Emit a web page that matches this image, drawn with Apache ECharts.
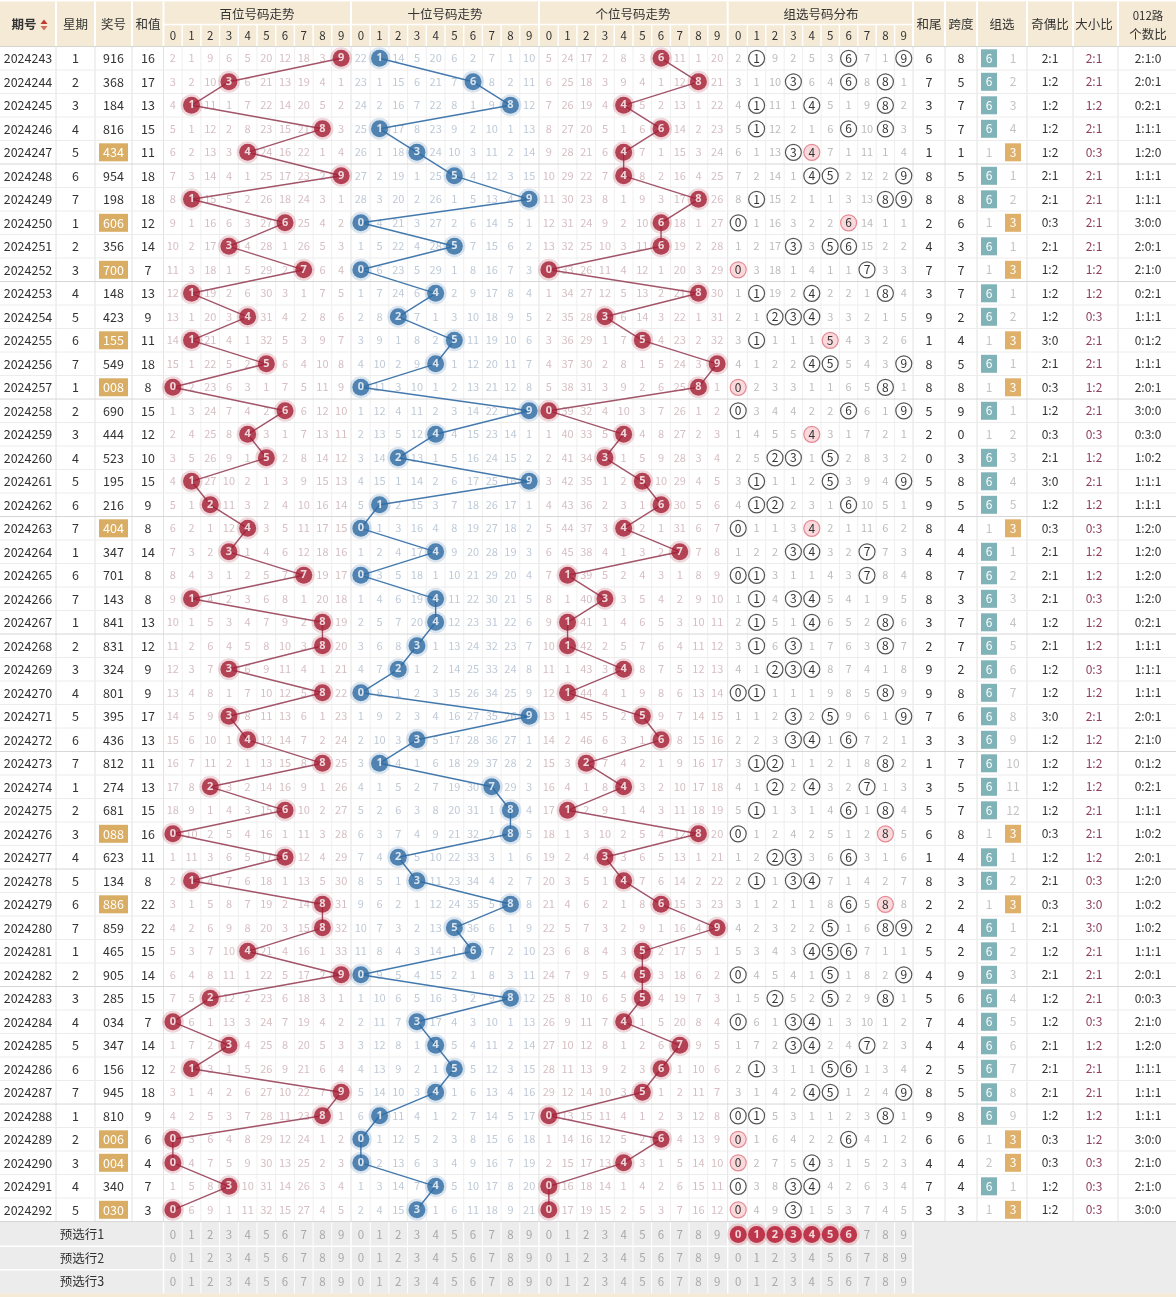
<!DOCTYPE html>
<html><head><meta charset="utf-8">
<script src="https://cdn.jsdelivr.net/npm/echarts/dist/echarts.min.js"></script>
<style>html,body{margin:0;padding:0;background:#fff}#c{width:1176px;height:1297px}</style>
</head><body><div id="c"></div>
<script>
// ---------------- DATA ----------------
const periods = ['2024243','2024244','2024245','2024246','2024247','2024248','2024249','2024250','2024251','2024252',
'2024253','2024254','2024255','2024256','2024257','2024258','2024259','2024260','2024261','2024262',
'2024263','2024264','2024265','2024266','2024267','2024268','2024269','2024270','2024271','2024272',
'2024273','2024274','2024275','2024276','2024277','2024278','2024279','2024280','2024281','2024282',
'2024283','2024284','2024285','2024286','2024287','2024288','2024289','2024290','2024291','2024292'];
const weekdays = [1,2,3,4,5,6,7,1,2,3,4,5,6,7,1,2,3,4,5,6,7,1,6,7,1,2,3,4,5,6,7,1,2,3,4,5,6,7,1,2,3,4,5,6,7,1,2,3,4,5];
const draws = ['916','368','184','816','434','954','198','606','356','700',
'148','423','155','549','008','690','444','523','195','216',
'404','347','701','143','841','831','324','801','395','436',
'812','274','681','088','623','134','886','859','465','905',
'285','034','347','156','945','810','006','004','340','030'];
const sums = [16,17,13,15,11,18,18,12,14,7,13,9,11,18,8,15,12,10,15,9,8,14,8,8,13,12,9,9,17,13,11,13,15,16,11,8,22,22,15,14,15,7,14,12,18,9,6,4,7,3];
// omission values shown in the first row (hit cell = 0)
const missHundredsFirst = [2,1,9,6,5,20,12,18,3,0];
const missTensFirst     = [22,0,14,5,20,6,2,7,1,10];
const missUnitsFirst    = [5,24,17,2,8,3,0,11,1,20];
const missGroupFirst    = [2,0,9,2,5,3,0,7,1,0];
const missZu6First = 0, missZu3First = 1;
const predPicks = [0,1,2,3,4,5,6];
const digitLabels = ['0','1','2','3','4','5','6','7','8','9'];
const predLabels = ['预选行1','预选行2','预选行3'];

// ---------------- LAYOUT ----------------
const W = 1176, H = 1297;
const ROW0 = 58.3, ROWH = 23.5;
const rowY = i => ROW0 + ROWH * i;
const DATA_TOP = rowY(-0.5), DATA_BOT = rowY(49.5);
const PRED0 = DATA_BOT + ROWH/2 + 1.2;
const predY = k => PRED0 + ROWH * k;
const PRED_BOT = predY(2.5);
const secLeft = [163.5, 351.5, 539.5, 729];
const secStep = [18.7, 18.7, 18.7, 18.4];
const colX = (s, d) => secLeft[s] + (d + 0.5) * secStep[s];
const secRight = s => secLeft[s] + 10 * secStep[s];

const FONT = '"Noto Sans CJK SC","Noto Sans",sans-serif';
const shapes = [];
function rect(x0,y0,x1,y1,fill){shapes.push({k:'rect',x0,y0,x1,y1,fill,z:0});}
function seg(x1,y1,x2,y2,stroke,w){shapes.push({k:'line',x1,y1,x2,y2,stroke,w:w||1,z:1});}
function circ(x,y,r,fill,stroke,w){shapes.push({k:'circle',x,y,r,fill,stroke,w,z:2});}
function txt(x,y,text,color,size,weight){shapes.push({k:'text',x,y,text:String(text),color,size:size||12,weight:weight||'normal',z:3});}
function poly(pts,fill){shapes.push({k:'poly',pts,fill,z:2});}

// ---------------- DERIVED ----------------
const digs = draws.map(s => s.split('').map(Number));
function omissions(first, pick) {
  const out = [first.slice()];
  for (let i = 1; i < digs.length; i++) {
    const prev = out[i-1];
    out.push(prev.map((v, d) => pick(digs[i]).includes(d) ? 0 : v + 1));
  }
  return out;
}
const missH = omissions(missHundredsFirst, a => [a[0]]);
const missT = omissions(missTensFirst, a => [a[1]]);
const missU = omissions(missUnitsFirst, a => [a[2]]);
const missG = omissions(missGroupFirst, a => a);
const kinds = digs.map(a => new Set(a).size); // 3: 组六, 2: 组三, 1: 豹子
const zu6 = [], zu3 = [];
kinds.forEach((k, i) => {
  if (i === 0) { zu6.push(missZu6First); zu3.push(missZu3First); return; }
  zu6.push(k === 3 ? 0 : zu6[i-1] + 1);
  zu3.push(k === 2 ? 0 : zu3[i-1] + 1);
});

// ---------------- TABLE SHAPES ----------------
const HEAD = '#f4ead5';
rect(0, 1.5, W, DATA_TOP, HEAD);
rect(0, PRED_BOT, W, H, HEAD);
rect(0, DATA_BOT, W, PRED_BOT, '#ececec');

// header texts
const hc = 24.5, h1 = 14.5, h2 = 35.5, HT = '#333';
txt(24, hc, '期号', HT, 12.5, 'bold');
poly([[40.5,24],[47.5,24],[44,19.5]], '#c0392b');
poly([[40.5,26],[47.5,26],[44,30.5]], '#d07060');
txt(75.5, hc, '星期', HT, 12.5);
txt(113.5, hc, '奖号', HT, 12.5);
txt(148, hc, '和值', HT, 12.5);
const secTitles = ['百位号码走势','十位号码走势','个位号码走势','组选号码分布'];
secTitles.forEach((t, s) => {
  txt((secLeft[s] + secRight(s)) / 2, h1, t, HT, 12.5);
  for (let d = 0; d < 10; d++) txt(colX(s, d), h2, digitLabels[d], HT, 11.5);
});
txt(929, hc, '和尾', HT, 12.5);
txt(961, hc, '跨度', HT, 12.5);
txt(1002, hc, '组选', HT, 12.5);
txt(1050, hc, '奇偶比', HT, 12.5);
txt(1094, hc, '大小比', HT, 12.5);
txt(1148, 15.5, '012路', HT, 11.5);
txt(1148, 34.5, '个数比', HT, 12.5);

// grid lines in data
const mainCols = [56, 95, 132, 163.5, 351, 539, 727.7, 913, 945, 977, 1027, 1073, 1118];
for (let s = 0; s < 4; s++) for (let d = 1; d < 10; d++) {
  const x = secLeft[s] + d * secStep[s];
  seg(x, DATA_TOP, x, DATA_BOT, '#efefef', 1);
  seg(x, h1 + 10, x, DATA_TOP, '#ffffff', 1.5);
  seg(x, DATA_BOT, x, PRED_BOT, '#ffffff', 1);
}
mainCols.forEach(x => {
  seg(x, DATA_TOP, x, DATA_BOT, '#e2e2e2', 1);
  seg(x, 1.5, x, DATA_TOP, '#ffffff', 2);
});
[163.5, 351, 539, 727.7, 913].forEach(x => seg(x, DATA_BOT, x, PRED_BOT, '#ffffff', 1.5));
for (let s = 0; s < 4; s++) seg(secLeft[s], h1 + 10, secRight(s), h1 + 10, '#ffffff', 1.5);
for (let i = 0; i <= 50; i++) {
  const y = rowY(i - 0.5);
  seg(0, y, W, y, (i % 5 === 0) ? '#d6d6d6' : '#ececec', 1);
}
for (let k = 1; k < 3; k++) seg(0, predY(k - 0.5), 913, predY(k - 0.5), '#ffffff', 1.5);

// data rows
const missColors = ['#d6bfc3', '#bfcad7', '#d6bfc3', '#bdbdbd'];
const missArr = [missH, missT, missU, missG];
digs.forEach((a, i) => {
  const y = rowY(i), T = '#333';
  txt(28, y, periods[i], T, 12.5);
  txt(75.5, y, weekdays[i], T, 12.5);
  if (kinds[i] === 2) {
    rect(99, y - 9, 128, y + 9, '#d9ad63');
    txt(113.5, y, draws[i], '#ffffff', 12.5);
  } else txt(113.5, y, draws[i], T, 12.5);
  txt(148, y, sums[i], T, 12.5);
  for (let s = 0; s < 4; s++) for (let d = 0; d < 10; d++) {
    const v = missArr[s][i][d];
    if (v !== 0) { txt(colX(s, d), y, v, missColors[s], 11); continue; }
    if (s === 3) {
      const cnt = a.filter(x => x === d).length;
      if (cnt > 1) circ(colX(3, d), y, 8, '#fad9dc', '#e58a94', 1.2);
      else circ(colX(3, d), y, 8, 'rgba(0,0,0,0)', '#555555', 1.2);
      txt(colX(3, d), y, d, '#333', 12);
    }
  }
  txt(929, y, sums[i] % 10, T, 12.5);
  txt(961, y, Math.max(...a) - Math.min(...a), T, 12.5);
  if (kinds[i] === 3) { rect(981, y - 9, 997, y + 9, '#80b3b7'); txt(989, y, '6', '#fff', 12); }
  else txt(989, y, zu6[i], '#c4c4c4', 12);
  if (kinds[i] === 2) { rect(1005, y - 9, 1021, y + 9, '#deb06a'); txt(1013, y, '3', '#fff', 12); }
  else txt(1013, y, zu3[i], '#c4c4c4', 12);
  const odd = a.filter(x => x % 2).length, big = a.filter(x => x >= 5).length;
  txt(1050, y, odd + ':' + (3 - odd), T, 12);
  txt(1094, y, big + ':' + (3 - big), '#8b3d5c', 12);
  const m = [0, 1, 2].map(r => a.filter(x => x % 3 === r).length);
  txt(1148, y, m.join(':'), T, 12);
});

// prediction rows
predLabels.forEach((l, k) => {
  const y = predY(k);
  txt(82, y, l, '#333', 12.5);
  for (let s = 0; s < 4; s++) for (let d = 0; d < 10; d++) {
    if (s === 3 && k === 0 && predPicks.includes(d)) continue;
    txt(colX(s, d), y, d, '#a9a9a9', 11.5);
  }
});

// ---------------- SERIES ----------------
function render(params, api) {
  const s = shapes[params.dataIndex];
  if (s.k === 'rect') {
    const p0 = api.coord([s.x0, s.y0]), p1 = api.coord([s.x1, s.y1]);
    return {type:'rect', z2:s.z, shape:{x:p0[0], y:p0[1], width:p1[0]-p0[0], height:p1[1]-p0[1]}, style:{fill:s.fill}};
  }
  if (s.k === 'line') {
    const p0 = api.coord([s.x1, s.y1]), p1 = api.coord([s.x2, s.y2]);
    return {type:'line', z2:s.z, shape:{x1:p0[0], y1:p0[1], x2:p1[0], y2:p1[1]}, style:{stroke:s.stroke, lineWidth:s.w}};
  }
  if (s.k === 'circle') {
    const p = api.coord([s.x, s.y]);
    return {type:'circle', z2:s.z, shape:{cx:p[0], cy:p[1], r:s.r}, style:{fill:s.fill, stroke:s.stroke, lineWidth:s.w}};
  }
  if (s.k === 'poly') {
    return {type:'polygon', z2:s.z, shape:{points:s.pts.map(q => api.coord(q))}, style:{fill:s.fill}};
  }
  const p = api.coord([s.x, s.y]);
  return {type:'text', z2:s.z, x:p[0], y:p[1], style:{text:s.text, fill:s.color, font:s.weight + ' ' + s.size + 'px ' + FONT, align:'center', verticalAlign:'middle'}};
}

const lineColors = ['#a25468', '#4479ad', '#a25468'];
const ballColors = ['#a51d35', '#2e6ca3', '#a51d35'];
const haloColors = ['rgba(165,29,53,0.22)', 'rgba(46,108,163,0.22)', 'rgba(165,29,53,0.22)'];
const series = [{
  type:'custom', z:2, clip:false, silent:true, progressive:0,
  data: shapes.map((s, i) => [i, 0]), encode:{x:-1, y:-1},
  renderItem: render
}];
for (let s = 0; s < 3; s++) {
  const pts = digs.map((a, i) => [colX(s, a[s]), rowY(i), a[s]]);
  series.push({type:'line', z:3, silent:true, symbol:'none', data:pts.map(p => [p[0], p[1]]), lineStyle:{color:lineColors[s], width:1.4}});
  series.push({type:'scatter', z:4, silent:true, symbolSize:22, data:pts, itemStyle:{color:haloColors[s]}});
  series.push({type:'scatter', z:5, silent:true, symbolSize:17, data:pts, itemStyle:{color:ballColors[s]},
    label:{show:true, position:'inside', formatter:p => p.value[2], color:'#fff', fontSize:11, fontWeight:'bold', fontFamily:'Noto Sans'}});
}
const predPts = predPicks.map(d => [colX(3, d), predY(0), d]);
series.push({type:'scatter', z:4, silent:true, symbolSize:22, data:predPts, itemStyle:{color:'rgba(200,20,40,0.2)'}});
series.push({type:'scatter', z:5, silent:true, symbolSize:17, data:predPts, itemStyle:{color:'#b3122b'},
  label:{show:true, position:'inside', formatter:p => p.value[2], color:'#fff', fontSize:11, fontWeight:'bold', fontFamily:'Noto Sans'}});

const chart = echarts.init(document.getElementById('c'), null, {renderer:'canvas'});
chart.setOption({
  animation:false,
  grid:{left:0, right:0, top:0, bottom:0},
  xAxis:{type:'value', min:0, max:W, show:false},
  yAxis:{type:'value', min:0, max:H, inverse:true, show:false},
  series
});
</script></body></html>
